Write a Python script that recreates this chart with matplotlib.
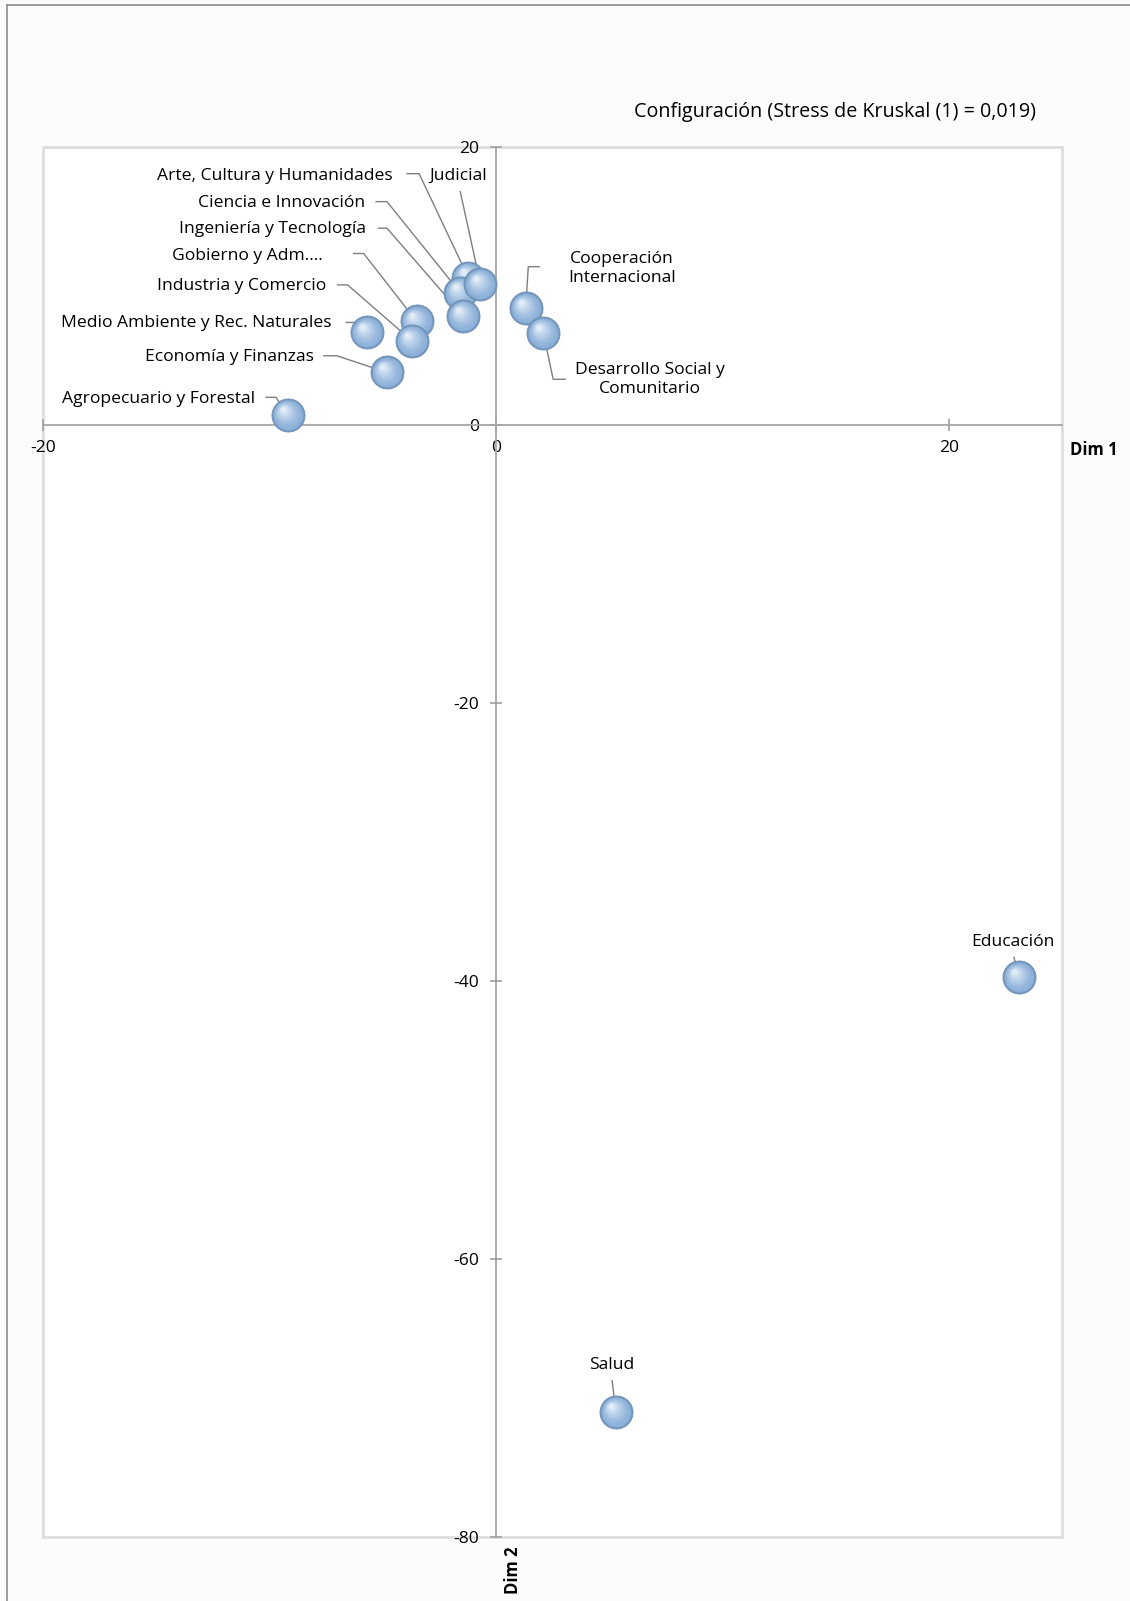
import matplotlib
matplotlib.use("Agg")
import matplotlib.pyplot as plt
import numpy as np
from matplotlib import transforms
from matplotlib.lines import Line2D
from matplotlib.patches import Rectangle
from matplotlib.colors import to_rgb

plt.rcParams['font.family'] = ['Open Sans', 'DejaVu Sans']

# MDS configuration (two dimensions)
categories = [
    "Agropecuario y Forestal", "Arte, Cultura y Humanidades", "Ciencia e Innovación",
    "Cooperación\nInternacional", "Desarrollo Social y\nComunitario", "Economía y Finanzas",
    "Educación", "Gobierno y Adm.…", "Industria y Comercio", "Ingeniería y Tecnología",
    "Judicial", "Medio Ambiente y Rec. Naturales", "Salud",
]
dim1 = [-9.19, -1.22, -1.58, 1.32, 2.09, -4.81, 23.10, -3.50, -3.71, -1.45, -0.68, -5.70, 5.30]
dim2 = [0.74, 10.61, 9.53, 8.40, 6.64, 3.78, -39.73, 7.45, 6.06, 7.86, 10.13, 6.66, -70.99]

x_ticks = [-20, 0, 20]
y_ticks = [20, 0, -20, -40, -60, -80]

title = "Configuración (Stress de Kruskal (1) = 0,019)"

# label placement: (text x, text y, alignment, leader path before the point)
label_layout = [
    (-10.62, 1.87, 'right', [(-10.18, 1.99), (-9.71, 1.99)]),
    (-4.58, 17.92, 'right', [(-3.95, 18.08), (-3.39, 18.08)]),
    (-5.76, 15.95, 'right', [(-5.32, 16.07), (-4.81, 16.07)]),
    (5.58, 11.27, 'center', [(1.94, 11.39), (1.43, 11.39)]),
    (6.80, 3.27, 'center', [(3.09, 3.29), (2.53, 3.29)]),
    (-8.05, 4.86, 'right', [(-7.62, 4.98), (-7.02, 4.98)]),
    (22.84, -37.17, 'center', [(22.87, -38.25)]),
    (-7.66, 12.17, 'right', [(-6.31, 12.34), (-5.84, 12.34)]),
    (-7.50, 10.01, 'right', [(-7.02, 10.08), (-6.55, 10.08)]),
    (-5.73, 14.08, 'right', [(-5.21, 14.16), (-4.81, 14.16)]),
    (-1.66, 17.96, 'center', [(-1.58, 16.84)]),
    (-7.26, 7.33, 'right', [(-6.63, 7.38), (-6.24, 7.38)]),
    (5.11, -67.63, 'center', [(5.13, -68.7)]),
]

W, H, DPI = 1130, 1601, 100
fs = 12.6
fig = plt.figure(figsize=(W / DPI, H / DPI), dpi=DPI, facecolor='#fcfcfc')
ax = fig.add_axes([43 / W, 1 - 1537 / H, (1062 - 43) / W, (1537 - 147) / H])
ax.set_facecolor('white')
ax.set_xlim(-20, 25)
ax.set_ylim(-80, 20)

# axes crossing at the origin
for side in ('top', 'right'):
    ax.spines[side].set_visible(False)
ax.spines['left'].set_position(('data', 0))
ax.spines['bottom'].set_position(('data', 0))
for side in ('left', 'bottom'):
    ax.spines[side].set_color('#a6a6a6')
    ax.spines[side].set_linewidth(1.3)
ax.set_xticks(x_ticks)
ax.set_yticks(y_ticks)
ax.set_xticklabels([str(v) for v in x_ticks])
ax.set_yticklabels([str(v) for v in y_ticks])
ax.tick_params(axis='both', direction='inout', length=8, width=1.3, color='#a6a6a6',
               labelsize=fs, labelcolor='black')
ax.tick_params(axis='x', pad=7)
ax.tick_params(axis='y', pad=8)

# plot area frame
ax.add_patch(Rectangle((0, 0), 1, 1, transform=ax.transAxes, fill=False,
                       edgecolor='#dedede', linewidth=2, clip_on=False, zorder=0.5))

# leader lines
for (tx, ty, ha, path), px, py in zip(label_layout, dim1, dim2):
    xs = [p[0] for p in path] + [px]
    ys = [p[1] for p in path] + [py]
    ax.plot(xs, ys, color='#7f7f7f', linewidth=1.0, zorder=2, solid_capstyle='butt')

# shaded spheres
diam_pt = 23.8
c_lo = np.array(to_rgb('#8bb0d8'))
c_hi = np.array(to_rgb('#e4eef9'))
n_layers = 14
for i, (px, py) in enumerate(zip(dim1, dim2)):
    z = 3 + i * 0.05
    ax.scatter([px], [py], s=diam_pt ** 2, color='#7597be', edgecolor='#6f90b6',
               linewidth=0.6, zorder=z)
    for k in range(n_layers):
        t = k / (n_layers - 1)
        frac = 0.9 - 0.78 * t
        dx = -0.15 * diam_pt * t
        dy = 0.18 * diam_pt * t
        tr = transforms.offset_copy(ax.transData, fig=fig, x=dx, y=dy, units='points')
        col = c_lo + (c_hi - c_lo) * t ** 1.3
        ax.scatter([px], [py], s=(diam_pt * frac) ** 2, color=col, linewidth=0,
                   transform=tr, zorder=z + 0.001 * (k + 1))

# point labels
for name, (tx, ty, ha, path) in zip(categories, label_layout):
    ax.text(tx, ty, name, ha=ha, va='center', fontsize=fs, color='black',
            multialignment='center', linespacing=1.2, zorder=10)

# titles and axis names
fig.text(835 / W, 1 - 112 / H, title, ha='center', va='center', fontsize=14.2)
fig.text(1094 / W, 1 - 450 / H, "Dim 1", ha='center', va='center', fontsize=12,
         fontweight='bold')
fig.text(513 / W, 1 - 1570 / H, "Dim 2", ha='center', va='center', fontsize=12,
         fontweight='bold', rotation=90)

# outer chart border (top and left edges)
fig.add_artist(Line2D([7 / W, 1.0], [1 - 5 / H, 1 - 5 / H], color='#8c8c8c', linewidth=1.2))
fig.add_artist(Line2D([7 / W, 7 / W], [0.0, 1 - 5 / H], color='#8c8c8c', linewidth=1.2))

fig.savefig('out.png', dpi=DPI, facecolor=fig.get_facecolor())
